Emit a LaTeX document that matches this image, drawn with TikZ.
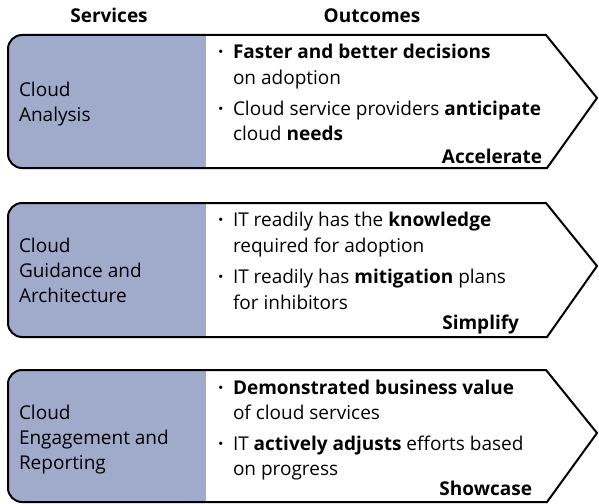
\documentclass[tikz,border=0pt]{standalone}
\usepackage{fontspec}
\setmainfont{Open Sans}
\definecolor{svcblue}{RGB}{160,170,202}
\tikzset{
  txt/.style={font=\fontsize{19}{22}\selectfont, anchor=base west, inner sep=0pt, outer sep=0pt},
  endlbl/.style={txt, anchor=base east, font=\fontsize{19}{22}\selectfont\bfseries},
  hdr/.style={txt, anchor=base, font=\fontsize{19}{22}\selectfont\bfseries},
  outline/.style={line width=2pt, draw=black, line join=miter},
}
\begin{document}
\begin{tikzpicture}[x=1pt,y=-1pt]
\useasboundingbox (0,0) rectangle (599,503);
\node[hdr] (hs) at (109,23) {Services};
\node[hdr] (ho) at (372,23) {Outcomes};
% box 1
\begin{scope}[shift={(0,35)}]
  \fill[svcblue, rounded corners=14pt] (8,0) rectangle (230,133);
  \fill[white] (206,0) -- (546,0) -- (597,63) -- (547,133) -- (206,133) -- cycle;
  \draw[outline, rounded corners=14pt] (206,0) -- (8,0) -- (8,133) -- (206,133);
  \draw[outline] (206,0) -- (546,0) -- (597,63) -- (547,133) -- (206,133);
  \node[txt] (s1a) at (19,61) {Cloud};
  \node[txt] (s1b) at (19,86) {Analysis};
  \node[txt] (b1a) at (218,24) {\textbf{·}};
  \node[txt] (t1a) at (233,24) {\textbf{Faster and better decisions}};
  \node[txt] (t1b) at (233,49.5) {on adoption};
  \node[txt] (b1b) at (218,80) {\textbf{·}};
  \node[txt] (t1c) at (233,80) {Cloud service providers \textbf{anticipate}};
  \node[txt] (t1d) at (233,105.5) {cloud \textbf{needs}};
  \node[endlbl] (e1) at (542,128) {Accelerate};
\end{scope}
% box 2
\begin{scope}[shift={(0,203)}]
  \fill[svcblue, rounded corners=14pt] (8,0) rectangle (230,134);
  \fill[white] (206,0) -- (546,0) -- (597,63) -- (547,134) -- (206,134) -- cycle;
  \draw[outline, rounded corners=14pt] (206,0) -- (8,0) -- (8,134) -- (206,134);
  \draw[outline] (206,0) -- (546,0) -- (597,63) -- (547,134) -- (206,134);
  \node[txt] (s2a) at (19,49) {Cloud};
  \node[txt] (s2b) at (19,74) {Guidance and};
  \node[txt] (s2c) at (19,99) {Architecture};
  \node[txt] (b2a) at (218,23) {\textbf{·}};
  \node[txt] (t2a) at (233,23) {IT readily has the \textbf{knowledge}};
  \node[txt] (t2b) at (233,49) {required for adoption};
  \node[txt] (b2b) at (218,80) {\textbf{·}};
  \node[txt] (t2c) at (233,80) {IT readily has \textbf{mitigation} plans};
  \node[txt] (t2d) at (233,106) {for inhibitors};
  \node[endlbl] (e2) at (519,126) {Simplify};
\end{scope}
% box 3
\begin{scope}[shift={(0,370)}]
  \fill[svcblue, rounded corners=14pt] (8,0) rectangle (230,132);
  \fill[white] (206,0) -- (546,0) -- (597,63) -- (547,132) -- (206,132) -- cycle;
  \draw[outline, rounded corners=14pt] (206,0) -- (8,0) -- (8,132) -- (206,132);
  \draw[outline] (206,0) -- (546,0) -- (597,63) -- (547,132) -- (206,132);
  \node[txt] (s3a) at (19,49) {Cloud};
  \node[txt] (s3b) at (19,74) {Engagement and};
  \node[txt] (s3c) at (19,99) {Reporting};
  \node[txt] (b3a) at (218,24) {\textbf{·}};
  \node[txt] (t3a) at (233,24) {\textbf{Demonstrated business value}};
  \node[txt] (t3b) at (233,49.5) {of cloud services};
  \node[txt] (b3b) at (218,80) {\textbf{·}};
  \node[txt] (t3c) at (233,80) {IT \textbf{actively adjusts} efforts based};
  \node[txt] (t3d) at (233,105.5) {on progress};
  \node[endlbl] (e3) at (532,125) {Showcase};
\end{scope}
\end{tikzpicture}
\end{document}
